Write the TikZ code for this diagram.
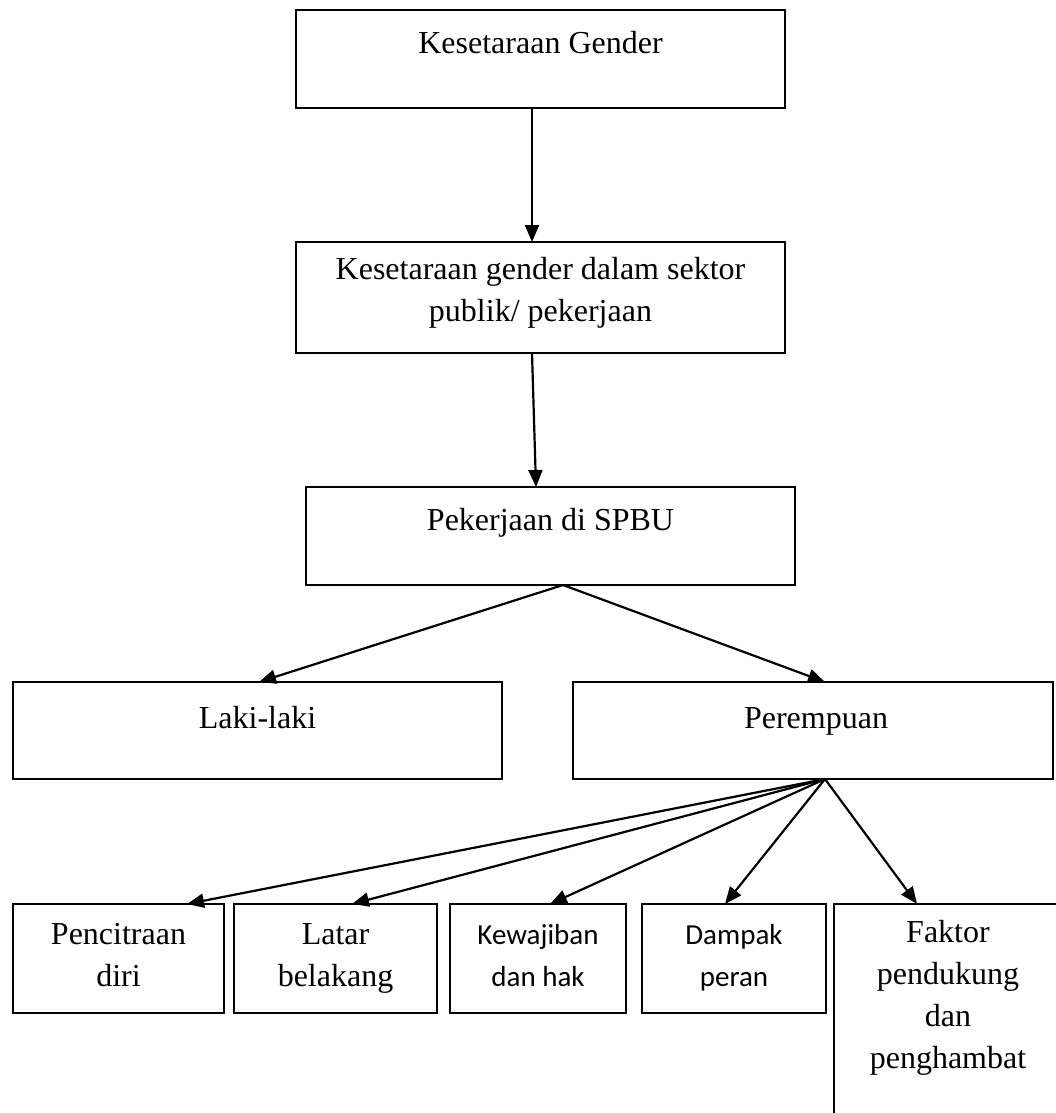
\documentclass[tikz,border=0pt]{standalone}
\usepackage{fontspec}
\setmainfont{Liberation Serif}
\newfontfamily\calfont{Carlito}
\usetikzlibrary{arrows.meta,calc}
\begin{document}
\begin{tikzpicture}[x=1pt,y=-1pt,
  box/.style={draw, line width=2.2pt, inner sep=0pt, outer sep=0pt, anchor=north west},
  txt/.style={align=center, inner sep=0pt, font=\fontsize{32}{42}\selectfont},
  ctxt/.style={align=center, inner sep=0pt, font=\calfont\fontsize{29}{42}\selectfont},
  arr/.style={line width=2.2pt, -{Triangle[length=17pt,width=14pt]}}]
\useasboundingbox (0,0) rectangle (1056,1113);
% boxes
\node[box, minimum width=489pt, minimum height=98pt] (b1) at (296,10) {};
\node[box, minimum width=489pt, minimum height=111pt] (b2) at (296,242) {};
\node[box, minimum width=489pt, minimum height=98pt] (b3) at (306,487) {};
\node[box, minimum width=489pt, minimum height=97pt] (lk) at (13,682) {};
\node[box, minimum width=480pt, minimum height=97pt] (pe) at (573,682) {};
\node[box, minimum width=211pt, minimum height=109pt] (p1) at (13,904) {};
\node[box, minimum width=203pt, minimum height=109pt] (p2) at (234,904) {};
\node[box, minimum width=176pt, minimum height=109pt] (p3) at (450,904) {};
\node[box, minimum width=184pt, minimum height=109pt] (p4) at (642,904) {};
\coordinate (p5bl) at (834,1120);
\coordinate (p5tl) at (834,904);
\coordinate (p5tr) at (1060,904);
\draw[line width=2.2pt] (p5bl) -- (p5tl) -- (p5tr);
% texts
\node[txt] (t1) at (540.5,45) {\strut Kesetaraan Gender};
\node[txt] (t2) at (540.5,292) {\strut Kesetaraan gender dalam sektor\\publik/ pekerjaan\strut};
\node[txt] (t3) at (550.5,522) {\strut Pekerjaan di SPBU};
\node[txt] (t4) at (257.5,720) {\strut Laki-laki};
\node[txt] (t5) at (816,720) {\strut Perempuan};
\node[txt] (t6) at (118.5,957) {\strut Pencitraan\\diri\strut};
\node[txt] (t7) at (335.5,957) {\strut Latar\\belakang\strut};
\node[ctxt] (t8) at (538,957) {\strut Kewajiban\\dan hak\strut};
\node[ctxt] (t9) at (734,957) {\strut Dampak\\peran\strut};
\node[txt] (t10) at (948,997) {\strut Faktor\\pendukung\\dan\\penghambat\strut};
% arrows
\draw[arr] ([xshift=-8.5pt]b1.south) -- ([xshift=-8.5pt]b2.north);
\draw[arr] ([xshift=-8.5pt]b2.south) -- ([xshift=-14.5pt]b3.north);
\coordinate (b3src) at ([xshift=12.5pt]b3.south);
\draw[arr] (b3src) -- ([xshift=1.5pt]lk.north);
\draw[arr] (b3src) -- ([xshift=12pt]pe.north);
\coordinate (pesrc) at ([xshift=12pt]pe.south);
\coordinate (p5top) at (917,904);
\draw[arr] (pesrc) -- ([xshift=68.5pt]p1.north);
\draw[arr] (pesrc) -- ([xshift=16.5pt]p2.north);
\draw[arr] (pesrc) -- ([xshift=12pt]p3.north);
\draw[arr] (pesrc) -- ([xshift=-9pt]p4.north);
\draw[arr] (pesrc) -- (p5top);
\end{tikzpicture}
\end{document}
